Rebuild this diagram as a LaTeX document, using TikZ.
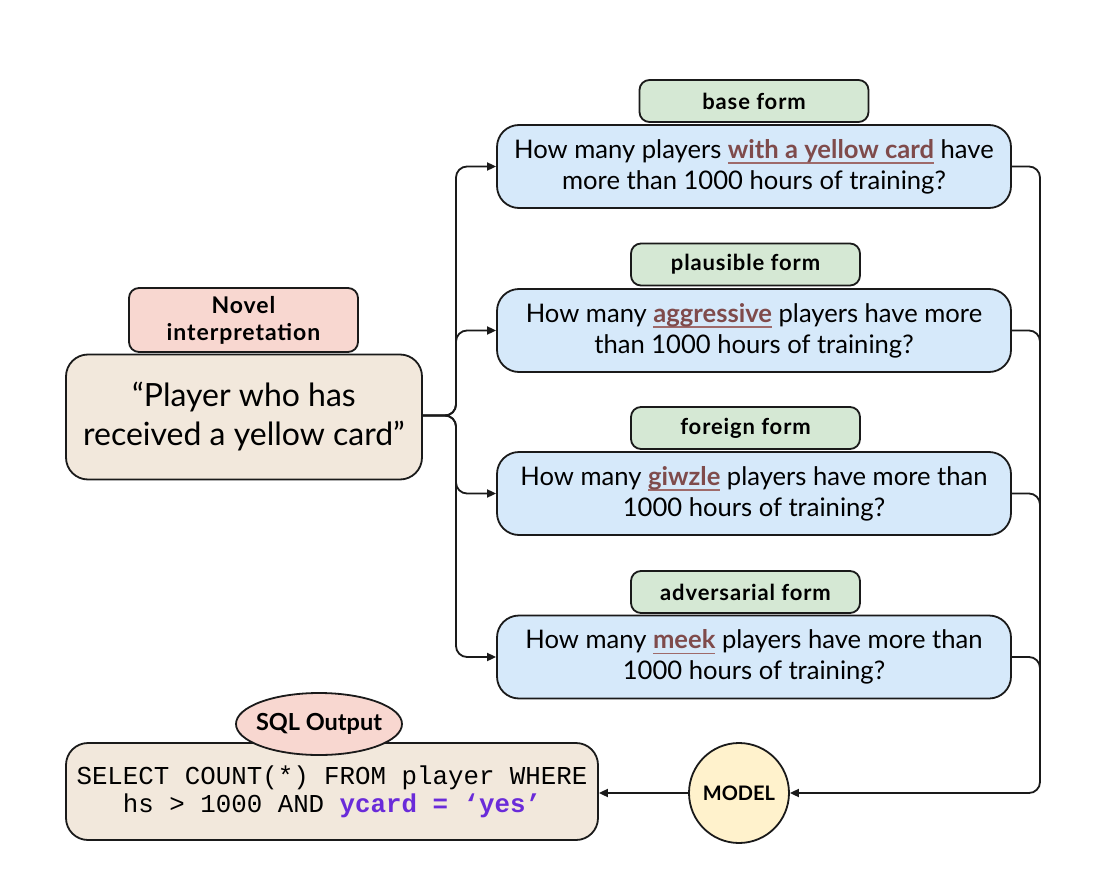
\documentclass[tikz,border=0pt]{standalone}
\usepackage{fontspec}
\setmainfont{Lato}
\setmonofont{Liberation Mono}
\usetikzlibrary{arrows.meta,shapes.geometric}
\definecolor{pinkc}{HTML}{F8D7D0}
\definecolor{beigec}{HTML}{F2E8DC}
\definecolor{greenc}{HTML}{D5E8D4}
\definecolor{bluec}{HTML}{D6E9FA}
\definecolor{yellowc}{HTML}{FFF2CC}
\definecolor{hlc}{HTML}{7F4B4B}
\definecolor{ulc}{HTML}{9E6A6A}
\definecolor{purplec}{HTML}{6A2BD9}
\definecolor{linec}{HTML}{1A1A1A}
\newcommand\hl[1]{\setbox0=\hbox{\textcolor{hlc}{\bfseries #1}}\rlap{\textcolor{ulc}{\rule[-5.5pt]{\wd0}{1.2pt}}}\box0\relax}
\newcommand\lblfont{\bfseries\fontsize{22}{27}\selectfont\addfontfeature{LetterSpace=4}}
\tikzset{
  base/.style={draw=linec, line width=1.8pt, inner sep=0pt, align=center},
  lblbox/.style={base, rounded corners=10pt, fill=greenc, minimum width=229pt, minimum height=42pt, font=\lblfont},
  qbox/.style={base, rounded corners=22pt, fill=bluec, minimum width=514pt, minimum height=83pt, font=\fontsize{25.6}{31}\selectfont},
  arr/.style={line width=1.8pt, draw=linec, -{Triangle[length=9pt,width=8pt]}},
  conn/.style={line width=1.8pt, draw=linec, rounded corners=11pt}
}
\begin{document}
\begin{tikzpicture}[x=1pt,y=-1pt]
\useasboundingbox (0,0) rectangle (1106,880);
% left side
\node[base, rounded corners=22pt, fill=beigec, minimum width=356pt, minimum height=125pt, font=\fontsize{32}{39}\selectfont] (phrase) at (244,417) {“Player who has\\received a yellow card”};
\node[base, rounded corners=10pt, fill=pinkc, minimum width=229pt, minimum height=64pt, font=\bfseries\fontsize{23}{27}\selectfont\addfontfeature{LetterSpace=4}] (novel) at (243.5,320) {Novel\\interpretation};
% questions
\node[qbox] (q1) at (754,166.5) {How many players \hl{with a yellow card} have\\more than 1000 hours of training?};
\node[lblbox] (l1) at (754,101) {base form};
\node[qbox] (q2) at (754,330.5) {How many \hl{aggressive} players have more\\than 1000 hours of training?};
\node[lblbox] (l2) at (745.5,264.5) {plausible form};
\node[qbox] (q3) at (754,493.5) {How many \hl{giwzle} players have more than\\1000 hours of training?};
\node[lblbox] (l3) at (745.5,428) {foreign form};
\node[qbox] (q4) at (754,657) {How many \hl{meek} players have more than\\1000 hours of training?};
\node[lblbox] (l4) at (745.5,592) {adversarial form};
% bottom
\node[base, rounded corners=22pt, fill=beigec, minimum width=532pt, minimum height=97pt, font=\ttfamily\fontsize{25.8}{28}\selectfont] (sql) at (332,791.5) {SELECT COUNT(*) FROM player WHERE\\hs > 1000 AND \textcolor{purplec}{\bfseries ycard = ‘yes’}};
\node[base, ellipse, inner sep=-25pt, fill=pinkc, minimum width=166pt, minimum height=62pt, font=\bfseries\fontsize{23.5}{26}\selectfont] (sqlout) at (319,724) {SQL Output};
\node[base, circle, inner sep=-10pt, fill=yellowc, minimum size=100pt, font=\bfseries\fontsize{20}{22}\selectfont] (model) at (739,793) {MODEL};
% connectors left
\coordinate (lb) at (456,415.5);
\draw[arr, rounded corners=11pt] (phrase.east |- lb) -- (lb) |- (q1.west);
\draw[arr, rounded corners=11pt] (phrase.east |- lb) -- (lb) |- (q2.west);
\draw[arr, rounded corners=11pt] (phrase.east |- lb) -- (lb) |- (q3.west);
\draw[arr, rounded corners=11pt] (phrase.east |- lb) -- (lb) |- (q4.west);
% connectors right
\coordinate (rc) at (1040,793);
\coordinate (rc2) at (1040,720);
\draw[conn] (q2.east) -| (rc2);
\draw[conn] (q3.east) -| (rc2);
\draw[conn] (q4.east) -| (rc2);
\draw[arr, rounded corners=11pt] (q1.east) -| (rc) -- (model.east);
\draw[arr] (model.west) -- (model.west -| sql.east);
\end{tikzpicture}
\end{document}
